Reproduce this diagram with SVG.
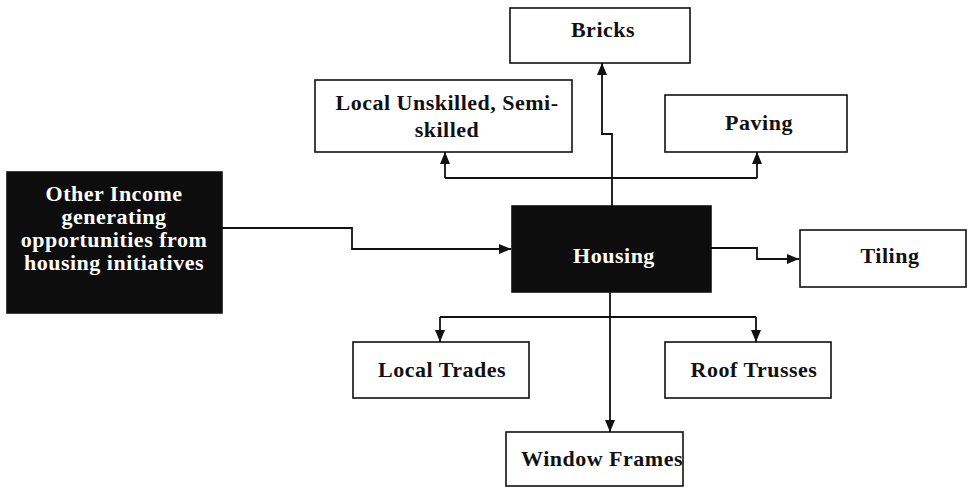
<svg xmlns="http://www.w3.org/2000/svg" width="970" height="488" viewBox="0 0 970 488">
<defs>
<style>
.box{fill:#fff;stroke:#111;stroke-width:1.6}
.dark{fill:#0d0d0d;stroke:#111;stroke-width:1.6}
.t{font-family:"Liberation Serif","Times New Roman",serif;font-weight:bold;font-size:22px;fill:#111;text-anchor:middle;letter-spacing:0.5px}
.w{fill:#fff}
.c{fill:none;stroke:#111;stroke-width:1.8}
</style>
<marker id="ah" viewBox="0 0 12 10" refX="12" refY="5" markerWidth="12" markerHeight="10" markerUnits="userSpaceOnUse" orient="auto">
<path d="M0,0 L12,5 L0,10 Z" fill="#111"/>
</marker>
</defs>
<g id="connectors">
<path class="c" d="M222,228 H352 V249 H511" marker-end="url(#ah)"/>
<path class="c" d="M711,248 H757 V259 H799" marker-end="url(#ah)"/>
<path class="c" d="M612,206 V134 H602 V63" marker-end="url(#ah)"/>
<path class="c" d="M445,178 H757"/>
<path class="c" d="M445,178 V152" marker-end="url(#ah)"/>
<path class="c" d="M757,178 V152" marker-end="url(#ah)"/>
<path class="c" d="M610,292 V432" marker-end="url(#ah)"/>
<path class="c" d="M440,317 H756"/>
<path class="c" d="M440,317 V342" marker-end="url(#ah)"/>
<path class="c" d="M756,317 V342" marker-end="url(#ah)"/>
</g>
<g id="other-income">
<rect class="dark" x="7" y="172" width="215" height="141"/>
<text class="t w" x="114" y="201">Other Income</text>
<text class="t w" x="114" y="224">generating</text>
<text class="t w" x="114" y="247">opportunities from</text>
<text class="t w" x="114" y="270">housing initiatives</text>
</g>
<g id="housing">
<rect class="dark" x="512" y="206" width="199" height="86"/>
<text class="t w" x="614" y="263">Housing</text>
</g>
<g id="bricks">
<rect class="box" x="510" y="8" width="180" height="55"/>
<text class="t" x="603" y="37">Bricks</text>
</g>
<g id="local-unskilled">
<rect class="box" x="315" y="80" width="257" height="72"/>
<text class="t" x="447" y="110">Local Unskilled, Semi-</text>
<text class="t" x="447" y="137">skilled</text>
</g>
<g id="paving">
<rect class="box" x="665" y="95" width="182" height="57"/>
<text class="t" x="759" y="130">Paving</text>
</g>
<g id="tiling">
<rect class="box" x="800" y="230" width="166" height="57"/>
<text class="t" x="890" y="263">Tiling</text>
</g>
<g id="local-trades">
<rect class="box" x="353" y="342" width="176" height="56"/>
<text class="t" x="442" y="377">Local Trades</text>
</g>
<g id="roof-trusses">
<rect class="box" x="665" y="342" width="166" height="56"/>
<text class="t" x="754" y="377">Roof Trusses</text>
</g>
<g id="window-frames">
<rect class="box" x="506" y="432" width="177" height="54"/>
<text class="t" x="602" y="466">Window Frames</text>
</g>
</svg>
